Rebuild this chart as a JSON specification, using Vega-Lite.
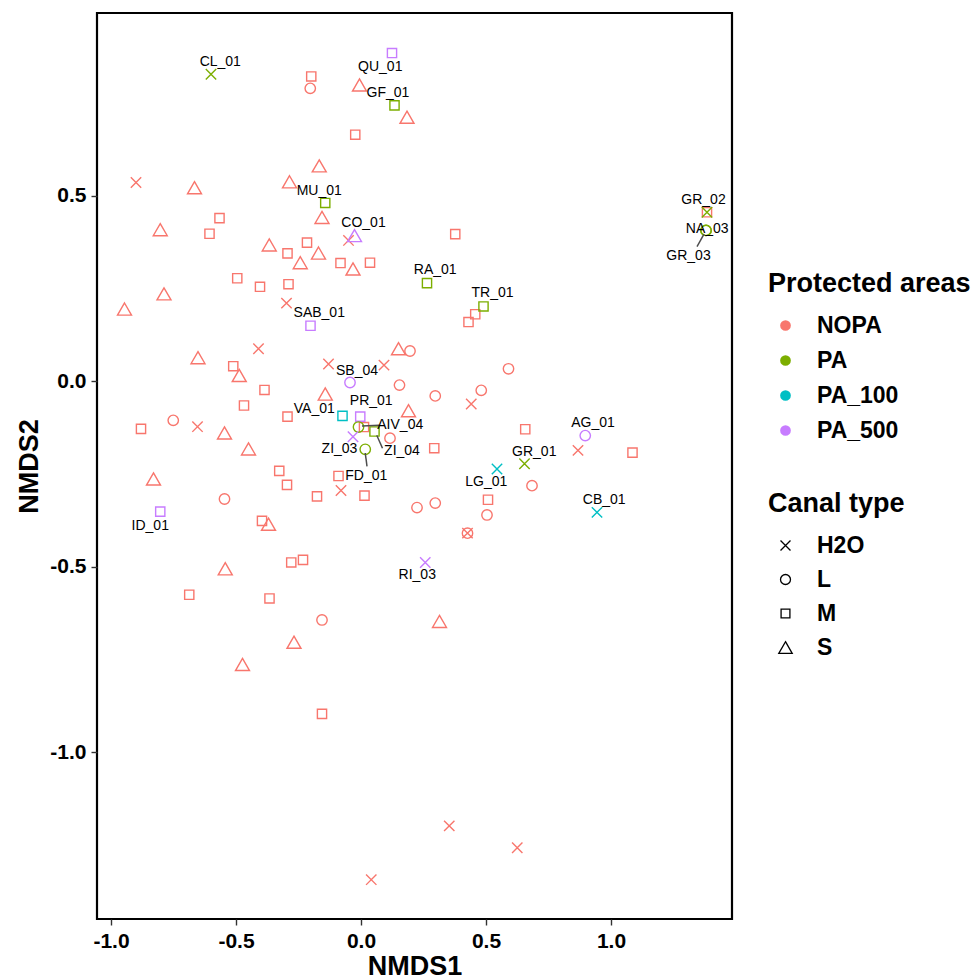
{
  "$schema": "https://vega.github.io/schema/vega-lite/v6.json",
  "width": 635,
  "height": 906,
  "autosize": {"type": "none"},
  "padding": {"left": 97, "top": 13, "right": 244, "bottom": 61},
  "background": "white",
  "config": {
    "font": "Liberation Sans",
    "view": {"stroke": "black", "strokeWidth": 2.2},
    "axis": {
      "grid": false,
      "domain": false,
      "tickColor": "#333333",
      "tickWidth": 1.4,
      "tickSize": 6,
      "labelFont": "Liberation Sans",
      "labelFontWeight": "bold",
      "labelFontSize": 21,
      "labelColor": "black",
      "labelPadding": 5,
      "titleFont": "Liberation Sans",
      "titleFontWeight": "bold",
      "titleFontSize": 27,
      "titleColor": "black"
    },
    "legend": {
      "titleFont": "Liberation Sans",
      "titleFontWeight": "bold",
      "titleFontSize": 27,
      "titleColor": "black",
      "titleLimit": 400,
      "labelFont": "Liberation Sans",
      "labelFontWeight": "bold",
      "labelFontSize": 23,
      "labelColor": "black",
      "labelLimit": 300
    }
  },
  "datasets": {
    "points": [
      {"x": -0.199, "y": 0.821, "area": "NOPA", "canal": "M"},
      {"x": -0.203, "y": 0.789, "area": "NOPA", "canal": "L"},
      {"x": -0.006, "y": 0.798, "area": "NOPA", "canal": "S"},
      {"x": 0.184, "y": 0.711, "area": "NOPA", "canal": "S"},
      {"x": -0.023, "y": 0.664, "area": "NOPA", "canal": "M"},
      {"x": -0.167, "y": 0.580, "area": "NOPA", "canal": "S"},
      {"x": -0.286, "y": 0.537, "area": "NOPA", "canal": "S"},
      {"x": -0.900, "y": 0.535, "area": "NOPA", "canal": "H2O"},
      {"x": -0.666, "y": 0.521, "area": "NOPA", "canal": "S"},
      {"x": -0.156, "y": 0.441, "area": "NOPA", "canal": "S"},
      {"x": -0.050, "y": 0.379, "area": "NOPA", "canal": "H2O"},
      {"x": -0.566, "y": 0.439, "area": "NOPA", "canal": "M"},
      {"x": -0.803, "y": 0.408, "area": "NOPA", "canal": "S"},
      {"x": -0.606, "y": 0.397, "area": "NOPA", "canal": "M"},
      {"x": -0.367, "y": 0.367, "area": "NOPA", "canal": "S"},
      {"x": -0.216, "y": 0.373, "area": "NOPA", "canal": "M"},
      {"x": -0.294, "y": 0.344, "area": "NOPA", "canal": "M"},
      {"x": -0.170, "y": 0.345, "area": "NOPA", "canal": "S"},
      {"x": -0.243, "y": 0.319, "area": "NOPA", "canal": "S"},
      {"x": -0.082, "y": 0.318, "area": "NOPA", "canal": "M"},
      {"x": -0.032, "y": 0.302, "area": "NOPA", "canal": "S"},
      {"x": 0.036, "y": 0.319, "area": "NOPA", "canal": "M"},
      {"x": -0.495, "y": 0.277, "area": "NOPA", "canal": "M"},
      {"x": -0.404, "y": 0.254, "area": "NOPA", "canal": "M"},
      {"x": -0.290, "y": 0.261, "area": "NOPA", "canal": "M"},
      {"x": -0.788, "y": 0.235, "area": "NOPA", "canal": "S"},
      {"x": -0.946, "y": 0.194, "area": "NOPA", "canal": "S"},
      {"x": -0.298, "y": 0.210, "area": "NOPA", "canal": "H2O"},
      {"x": -0.410, "y": 0.087, "area": "NOPA", "canal": "H2O"},
      {"x": -0.652, "y": 0.063, "area": "NOPA", "canal": "S"},
      {"x": -0.511, "y": 0.040, "area": "NOPA", "canal": "M"},
      {"x": -0.487, "y": 0.015, "area": "NOPA", "canal": "S"},
      {"x": -0.130, "y": 0.046, "area": "NOPA", "canal": "H2O"},
      {"x": 0.092, "y": 0.043, "area": "NOPA", "canal": "H2O"},
      {"x": 0.150, "y": 0.087, "area": "NOPA", "canal": "S"},
      {"x": 0.196, "y": 0.081, "area": "NOPA", "canal": "L"},
      {"x": 0.154, "y": -0.011, "area": "NOPA", "canal": "L"},
      {"x": -0.386, "y": -0.024, "area": "NOPA", "canal": "M"},
      {"x": -0.143, "y": -0.035, "area": "NOPA", "canal": "S"},
      {"x": 1.384, "y": 0.455, "area": "NOPA", "canal": "M"},
      {"x": 0.377, "y": 0.396, "area": "NOPA", "canal": "M"},
      {"x": 0.457, "y": 0.180, "area": "NOPA", "canal": "M"},
      {"x": 0.430, "y": 0.159, "area": "NOPA", "canal": "M"},
      {"x": 0.590, "y": 0.033, "area": "NOPA", "canal": "L"},
      {"x": 0.481, "y": -0.025, "area": "NOPA", "canal": "L"},
      {"x": 0.297, "y": -0.040, "area": "NOPA", "canal": "L"},
      {"x": -0.468, "y": -0.066, "area": "NOPA", "canal": "M"},
      {"x": -0.294, "y": -0.096, "area": "NOPA", "canal": "M"},
      {"x": 0.190, "y": -0.080, "area": "NOPA", "canal": "S"},
      {"x": -0.751, "y": -0.106, "area": "NOPA", "canal": "L"},
      {"x": -0.880, "y": -0.129, "area": "NOPA", "canal": "M"},
      {"x": -0.654, "y": -0.123, "area": "NOPA", "canal": "H2O"},
      {"x": -0.546, "y": -0.140, "area": "NOPA", "canal": "S"},
      {"x": -0.450, "y": -0.183, "area": "NOPA", "canal": "S"},
      {"x": 0.012, "y": -0.124, "area": "NOPA", "canal": "M"},
      {"x": 0.116, "y": -0.154, "area": "NOPA", "canal": "L"},
      {"x": -0.830, "y": -0.264, "area": "NOPA", "canal": "S"},
      {"x": -0.546, "y": -0.318, "area": "NOPA", "canal": "L"},
      {"x": -0.327, "y": -0.242, "area": "NOPA", "canal": "M"},
      {"x": -0.296, "y": -0.280, "area": "NOPA", "canal": "M"},
      {"x": -0.090, "y": -0.256, "area": "NOPA", "canal": "M"},
      {"x": -0.080, "y": -0.295, "area": "NOPA", "canal": "H2O"},
      {"x": -0.176, "y": -0.311, "area": "NOPA", "canal": "M"},
      {"x": 0.014, "y": -0.309, "area": "NOPA", "canal": "M"},
      {"x": -0.396, "y": -0.377, "area": "NOPA", "canal": "M"},
      {"x": -0.370, "y": -0.386, "area": "NOPA", "canal": "S"},
      {"x": -0.543, "y": -0.506, "area": "NOPA", "canal": "S"},
      {"x": -0.279, "y": -0.489, "area": "NOPA", "canal": "M"},
      {"x": -0.232, "y": -0.482, "area": "NOPA", "canal": "M"},
      {"x": -0.687, "y": -0.576, "area": "NOPA", "canal": "M"},
      {"x": -0.366, "y": -0.586, "area": "NOPA", "canal": "M"},
      {"x": 0.441, "y": -0.062, "area": "NOPA", "canal": "H2O"},
      {"x": 0.657, "y": -0.130, "area": "NOPA", "canal": "M"},
      {"x": 0.868, "y": -0.187, "area": "NOPA", "canal": "H2O"},
      {"x": 1.086, "y": -0.193, "area": "NOPA", "canal": "M"},
      {"x": 0.293, "y": -0.181, "area": "NOPA", "canal": "M"},
      {"x": 0.684, "y": -0.282, "area": "NOPA", "canal": "L"},
      {"x": 0.508, "y": -0.320, "area": "NOPA", "canal": "M"},
      {"x": 0.504, "y": -0.361, "area": "NOPA", "canal": "L"},
      {"x": 0.297, "y": -0.329, "area": "NOPA", "canal": "L"},
      {"x": 0.224, "y": -0.341, "area": "NOPA", "canal": "L"},
      {"x": 0.426, "y": -0.410, "area": "NOPA", "canal": "L"},
      {"x": 0.426, "y": -0.410, "area": "NOPA", "canal": "H2O"},
      {"x": -0.156, "y": -0.644, "area": "NOPA", "canal": "L"},
      {"x": 0.314, "y": -0.648, "area": "NOPA", "canal": "S"},
      {"x": -0.268, "y": -0.704, "area": "NOPA", "canal": "S"},
      {"x": -0.474, "y": -0.764, "area": "NOPA", "canal": "S"},
      {"x": -0.156, "y": -0.897, "area": "NOPA", "canal": "M"},
      {"x": 0.353, "y": -1.199, "area": "NOPA", "canal": "H2O"},
      {"x": 0.625, "y": -1.258, "area": "NOPA", "canal": "H2O"},
      {"x": 0.041, "y": -1.344, "area": "NOPA", "canal": "H2O"},
      {"x": -0.600, "y": 0.827, "area": "PA", "canal": "H2O", "label": "CL_01", "lx": -0.563, "ly": 0.860},
      {"x": 0.124, "y": 0.884, "area": "PA_500", "canal": "M", "label": "QU_01", "lx": 0.077, "ly": 0.846},
      {"x": 0.134, "y": 0.743, "area": "PA", "canal": "M", "label": "GF_01", "lx": 0.108, "ly": 0.776},
      {"x": -0.143, "y": 0.480, "area": "PA", "canal": "M", "label": "MU_01", "lx": -0.167, "ly": 0.511},
      {"x": -0.026, "y": 0.392, "area": "PA_500", "canal": "S", "label": "CO_01", "lx": 0.010, "ly": 0.427},
      {"x": -0.202, "y": 0.149, "area": "PA_500", "canal": "M", "label": "SAB_01", "lx": -0.167, "ly": 0.183},
      {"x": -0.044, "y": -0.004, "area": "PA_500", "canal": "L", "label": "SB_04", "lx": -0.016, "ly": 0.027},
      {"x": 1.384, "y": 0.455, "area": "PA", "canal": "H2O", "label": "GR_02", "lx": 1.370, "ly": 0.488},
      {"x": 1.380, "y": 0.406, "area": "PA", "canal": "L", "label": "NA_03", "lx": 1.385, "ly": 0.409},
      {"x": 1.380, "y": 0.406, "area": "PA", "canal": "L", "label": "GR_03", "lx": 1.310, "ly": 0.337, "sx": 1.344, "sy": 0.3625, "ex": 1.372, "ey": 0.396},
      {"x": 0.264, "y": 0.264, "area": "PA", "canal": "M", "label": "RA_01", "lx": 0.297, "ly": 0.300},
      {"x": 0.490, "y": 0.201, "area": "PA", "canal": "M", "label": "TR_01", "lx": 0.526, "ly": 0.237},
      {"x": -0.074, "y": -0.094, "area": "PA_100", "canal": "M", "label": "VA_01", "lx": -0.187, "ly": -0.075},
      {"x": -0.003, "y": -0.096, "area": "PA_500", "canal": "M", "label": "PR_01", "lx": 0.041, "ly": -0.055},
      {"x": -0.010, "y": -0.124, "area": "PA", "canal": "L", "label": "AIV_04", "lx": 0.157, "ly": -0.118, "sx": 0.004, "sy": -0.121, "ex": 0.073, "ey": -0.119},
      {"x": 0.054, "y": -0.136, "area": "PA", "canal": "M", "label": "ZI_04", "lx": 0.164, "ly": -0.188, "sx": 0.063, "sy": -0.146, "ex": 0.086, "ey": -0.181},
      {"x": -0.032, "y": -0.150, "area": "PA_500", "canal": "H2O", "label": "ZI_03", "lx": -0.086, "ly": -0.184},
      {"x": 0.017, "y": -0.184, "area": "PA", "canal": "L", "label": "FD_01", "lx": 0.021, "ly": -0.256, "sx": 0.024, "sy": -0.230, "ex": 0.017, "ey": -0.194},
      {"x": -0.803, "y": -0.352, "area": "PA_500", "canal": "M", "label": "ID_01", "lx": -0.843, "ly": -0.390},
      {"x": 0.897, "y": -0.147, "area": "PA_500", "canal": "L", "label": "AG_01", "lx": 0.928, "ly": -0.113},
      {"x": 0.654, "y": -0.223, "area": "PA", "canal": "H2O", "label": "GR_01", "lx": 0.693, "ly": -0.190},
      {"x": 0.544, "y": -0.237, "area": "PA_100", "canal": "H2O", "label": "LG_01", "lx": 0.501, "ly": -0.273},
      {"x": 0.944, "y": -0.354, "area": "PA_100", "canal": "H2O", "label": "CB_01", "lx": 0.973, "ly": -0.320},
      {"x": 0.257, "y": -0.489, "area": "PA_500", "canal": "H2O", "label": "RI_03", "lx": 0.225, "ly": -0.524}
    ]
  },
  "data": {"name": "points"},
  "layer": [
    {
      "transform": [{"filter": "false"}],
      "mark": {"type": "point", "filled": true, "shape": "circle", "opacity": 1},
      "encoding": {
        "x": {"field": "x", "type": "quantitative", "title": "NMDS1"},
        "y": {"field": "y", "type": "quantitative", "title": "NMDS2"},
        "color": {
          "field": "area", "type": "nominal", "title": "Protected areas",
          "scale": {"domain": ["NOPA", "PA", "PA_100", "PA_500"], "range": ["#F8766D", "#7CAE00", "#00BFC4", "#C77CFF"]},
          "legend": {
            "orient": "none", "legendX": 671, "legendY": 258,
            "symbolType": "circle", "symbolSize": 115, "symbolStrokeWidth": 0, "symbolOpacity": 1,
            "symbolOffset": 6, "labelOffset": 20, "rowPadding": 11, "titlePadding": 16
          }
        }
      }
    },
    {
      "mark": {"type": "point", "filled": false, "size": 196, "strokeWidth": 1.4, "opacity": 1},
      "encoding": {
        "x": {
          "field": "x", "type": "quantitative", "title": "NMDS1",
          "scale": {"domain": [-1.056, 1.484], "nice": false, "zero": false},
          "axis": {"values": [-1, -0.5, 0, 0.5, 1], "labelExpr": "(datum.value < 0 ? '-' : '') + format(abs(datum.value), '.1f')", "titlePadding": 2}
        },
        "y": {
          "field": "y", "type": "quantitative", "title": "NMDS2",
          "scale": {"domain": [-1.45, 0.992], "nice": false, "zero": false},
          "axis": {"values": [-1, -0.5, 0, 0.5], "labelExpr": "(datum.value < 0 ? '-' : '') + format(abs(datum.value), '.1f')", "titlePadding": 6}
        },
        "color": {
          "field": "area", "type": "nominal", "title": "Protected areas",
          "legend": null
        },
        "shape": {
          "field": "canal", "type": "nominal", "title": "Canal type",
          "scale": {
            "domain": ["H2O", "L", "M", "S"],
            "range": [
              "M-0.743,-0.743L0.743,0.743M-0.743,0.743L0.743,-0.743",
              "M0.743,0A0.743,0.743,0,1,1,-0.743,0A0.743,0.743,0,1,1,0.743,0Z",
              "M-0.658,-0.658L0.658,-0.658L0.658,0.658L-0.658,0.658Z",
              "M0,-0.866L1,0.866L-1,0.866Z"
            ]
          },
          "legend": {
            "orient": "none", "legendX": 671, "legendY": 478,
            "symbolSize": 180, "symbolStrokeColor": "black", "symbolFillColor": "transparent", "symbolStrokeWidth": 1.3,
            "symbolOffset": 6, "labelOffset": 20, "rowPadding": 10, "titlePadding": 16
          }
        }
      }
    },
    {
      "transform": [{"filter": "isValid(datum.sx)"}],
      "mark": {"type": "rule", "color": "#4d4d4d", "strokeWidth": 1.5},
      "encoding": {
        "x": {"field": "sx", "type": "quantitative", "title": "NMDS1"},
        "y": {"field": "sy", "type": "quantitative", "title": "NMDS2"},
        "x2": {"field": "ex"},
        "y2": {"field": "ey"}
      }
    },
    {
      "transform": [{"filter": "isValid(datum.label)"}],
      "mark": {"type": "text", "font": "Liberation Sans", "fontSize": 14, "color": "black", "align": "center", "baseline": "middle"},
      "encoding": {
        "x": {"field": "lx", "type": "quantitative", "title": "NMDS1"},
        "y": {"field": "ly", "type": "quantitative", "title": "NMDS2"},
        "text": {"field": "label"}
      }
    }
  ]
}
